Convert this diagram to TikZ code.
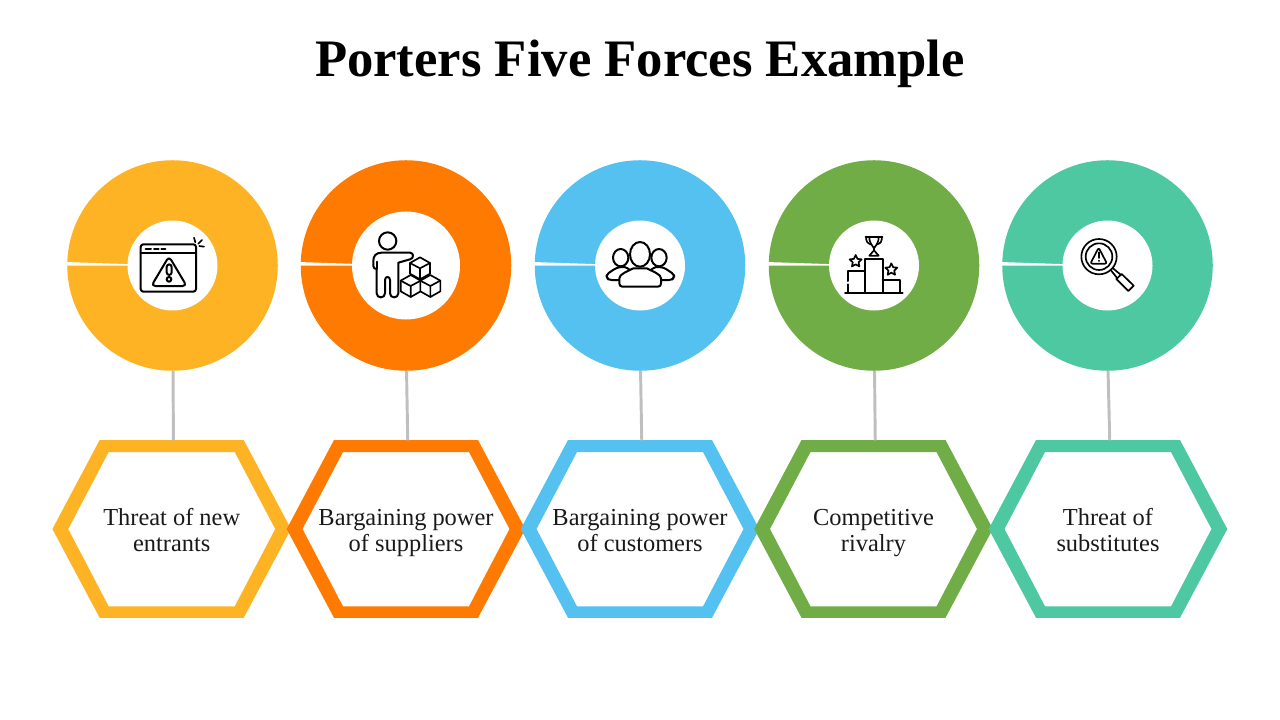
\documentclass[tikz,border=0pt]{standalone}
\usepackage{fontspec}
\setmainfont{Liberation Serif}
\usetikzlibrary{calc}
\definecolor{cyellow}{HTML}{FDB323}
\definecolor{corange}{HTML}{FF7A00}
\definecolor{cblue}{HTML}{55C1F0}
\definecolor{cgreen}{HTML}{70AD47}
\definecolor{cteal}{HTML}{4DC8A0}
\definecolor{cgrey}{HTML}{BFBFBF}
\tikzset{
  disc/.style={circle,fill=#1,minimum size=157.9pt,inner sep=0pt,outer sep=0pt},
  hole/.style={circle,fill=white,minimum size=#1,inner sep=0pt,outer sep=0pt},
  hexlabel/.style={minimum width=178pt,minimum height=133pt,inner sep=0pt,outer sep=0pt,align=center,
    font=\fontsize{18.3pt}{19.5pt}\selectfont,text=black!90},
  stem/.style={draw=cgrey,line width=2.2pt},
  iconline/.style={draw=black,line width=1.5pt,line join=round,line cap=round},
  thinline/.style={iconline,line width=1.25pt},
  titletext/.style={font=\fontsize{39.5pt}{44pt}\selectfont\bfseries,text=black,inner sep=0pt}
}
\newcommand{\icube}[2]{% centre in zoom units
  \draw[thinline,fill=white] (#1,#2-33) -- (#1+30,#2-16) -- (#1+30,#2+16) -- (#1,#2+33) -- (#1-30,#2+16) -- (#1-30,#2-16) -- cycle;
  \draw[thinline] (#1-30,#2-16) -- (#1,#2) -- (#1+30,#2-16) (#1,#2) -- (#1,#2+33);
}
\newcommand{\istar}[3]{% centre, radius
  \draw[thinline] ($(#1,#2)+(-90:#3)$) -- ($(#1,#2)+(-54:#3*0.48)$) -- ($(#1,#2)+(-18:#3)$) -- ($(#1,#2)+(18:#3*0.48)$)
    -- ($(#1,#2)+(54:#3)$) -- ($(#1,#2)+(90:#3*0.48)$) -- ($(#1,#2)+(126:#3)$)
    -- ($(#1,#2)+(162:#3*0.48)$) -- ($(#1,#2)+(198:#3)$) -- ($(#1,#2)+(234:#3*0.48)$) -- cycle;
}
\newcommand{\topstrut}{\rule{0pt}{19.5pt}}
\newcommand{\botstrut}{\rule[-6pt]{0pt}{6pt}}
\begin{document}
\begin{tikzpicture}[x=0.75pt,y=-0.75pt]
\useasboundingbox (0,0) rectangle (1280,720);
\node[titletext] (title) at (640,64) {Porters Five Forces Example};

\foreach \i/\cx/\hx/\col/\hs/\lab in {
  1/172.5/171.7/cyellow/67.5pt/{Threat of new\\entrants},
  2/406/406/corange/81pt/{Bargaining power\\of suppliers},
  3/640/640/cblue/67.5pt/{Bargaining power\\of customers},
  4/874/873.5/cgreen/67.5pt/{Competitive\\rivalry},
  5/1107.5/1108/cteal/67.5pt/{Threat of\\substitutes}}{
  \node[disc=\col] (c\i) at (\cx,265.5) {};
  \fill[white] ($(c\i.west)+(-1pt,2.6pt)$) -- ($(c\i.west)+(-1pt,0pt)$) -- ($(c\i.west)+(50pt,0pt)$) -- ($(c\i.west)+(50pt,0.9pt)$) -- cycle;
  \node[hole=\hs] (i\i) at (\cx,265.5) {};
  \fill[\col,even odd rule]
    (\hx-119.3,529) -- (\hx-72,440) -- (\hx+72,440) -- (\hx+119.3,529) -- (\hx+72,617.8) -- (\hx-72,617.8) -- cycle
    (\hx-103.5,529) -- (\hx-63,452) -- (\hx+63,452) -- (\hx+103.5,529) -- (\hx+63,606.4) -- (\hx-63,606.4) -- cycle;
  \node[hexlabel] (h\i) at (\hx,529) {\topstrut\lab\botstrut};
  \draw[stem] ([xshift=0.4pt]c\i.south) -- ([xshift=1.3pt]h\i.north);
}

% icon 1: browser warning
\begin{scope}[shift={(120,225)},x=0.25pt,y=-0.25pt]
  \draw[iconline,rounded corners=2pt] (62,58) rectangle (228,200);
  \draw[iconline] (62,85) -- (228,85);
  \draw[iconline] (77,72) -- (93,72) (102,72) -- (116,72) (124,72) -- (136,72);
  \draw[thinline] (222,38) -- (226,52) (246,45) -- (235,56) (252,65) -- (238,63);
  \draw[iconline,rounded corners=3pt] (147,94) -- (200,183) -- (94,183) -- cycle;
  \draw[iconline,rounded corners=2pt] (140,118) rectangle (155,150);
  \draw[iconline] (147,163) circle[radius=7];
\end{scope}

% icon 2: person with boxes
\begin{scope}[shift={(340,210)},x=0.25pt,y=-0.25pt]
  \draw[iconline] (143,93) circle[radius=26];
  \draw[iconline] (210,128) -- (125,128) .. controls (108,128) and (100,138) .. (100,152) -- (100,168) .. controls (100,174) and (104,177) .. (110,177)
    -- (110,250) .. controls (110,266) and (135,266) .. (135,250) -- (135,210) .. controls (135,198) and (150,198) .. (150,210)
    -- (150,250) .. controls (150,266) and (175,266) .. (175,250) -- (175,158) -- (210,148) .. controls (222,146) and (222,128) .. (210,128);
  \draw[thinline] (110,177) -- (110,155);
  \icube{240}{175}
  \icube{212}{228}
  \icube{271}{228}
\end{scope}

% icon 3: group of people
\begin{scope}[shift={(585,215)},x=0.25pt,y=-0.25pt]
  \draw[iconline,rounded corners=2pt] (103,195) -- (72,195) -- (65,188) -- (65,178) -- (95,158) -- (120,155) -- (150,175);
  \draw[iconline,rounded corners=2pt] (228,195) -- (260,195) -- (267,188) -- (267,178) -- (237,158) -- (212,155) -- (182,175);
  \draw[iconline,fill=white] (107,128) ellipse[x radius=23,y radius=26];
  \draw[iconline,fill=white] (222,128) ellipse[x radius=23,y radius=26];
  \draw[iconline,fill=white] (112,215) .. controls (106,215) and (103,211) .. (103,205) -- (103,190) .. controls (103,178) and (125,170) .. (145,160) -- (185,160) .. controls (205,170) and (228,178) .. (228,190) -- (228,205) .. controls (228,211) and (225,215) .. (219,215) -- cycle;
  \draw[iconline,fill=white] (165,118) ellipse[x radius=30,y radius=37];
\end{scope}

% icon 4: podium
\begin{scope}[shift={(820,215)},x=0.25pt,y=-0.25pt]
  \draw[iconline] (75,234) -- (248,234);
  \draw[iconline] (135,234) -- (135,133) -- (188,133) -- (188,234);
  \draw[iconline] (83,234) -- (83,208) (83,198) -- (83,167) -- (135,167);
  \draw[iconline] (188,195) -- (241,195) -- (241,234);
  \draw[iconline] (137,65) -- (187,65);
  \draw[thinline] (148,65) .. controls (148,88) and (158,90) .. (162,100) .. controls (166,90) and (176,88) .. (176,65);
  \draw[thinline] (139,65) .. controls (137,78) and (142,86) .. (153,88) (185,65) .. controls (187,78) and (182,86) .. (171,88);
  \draw[thinline] (162,100) -- (162,106) -- (148,122) -- (176,122) -- (162,106);
  \istar{107}{139}{19}
  \istar{214}{164}{19}
\end{scope}

% icon 5: magnifier with warning
\begin{scope}[shift={(1055,215)},x=0.25pt,y=-0.25pt]
  \draw[thinline] (132,125) circle[radius=53];
  \draw[thinline] (132,125) circle[radius=40];
  \draw[thinline,rounded corners=1.5pt] (131,98) -- (156,146) -- (106,146) -- cycle;
  \draw[thinline] (131,112) -- (131,129);
  \draw[thinline] (131,137) -- (131,138);
  \draw[thinline] (167,165) -- (187,190) (174,160) -- (198,180);
  \draw[thinline] (200,177) -- (236,212) -- (220,228) -- (184,192) -- cycle;
\end{scope}
\end{tikzpicture}
\end{document}
